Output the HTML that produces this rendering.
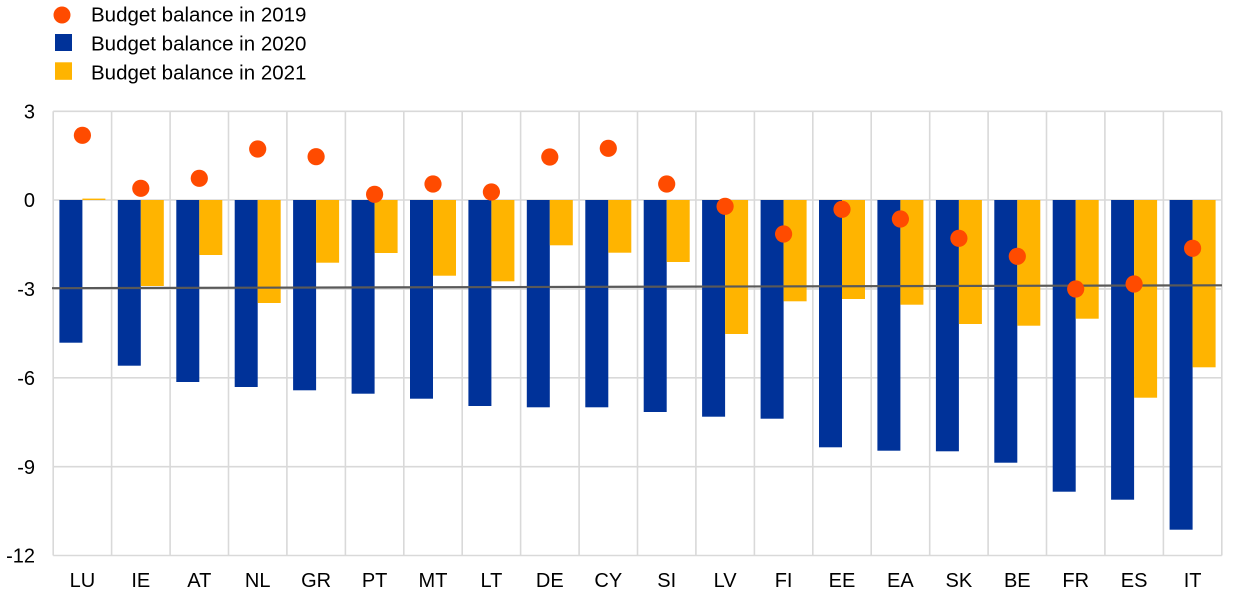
<!DOCTYPE html>
<html>
<head>
<meta charset="utf-8">
<style>
  html, body { margin: 0; padding: 0; background: #ffffff; }
  svg { display: block; }
  text { font-family: "Liberation Sans", Arial, sans-serif; fill: #000000; }
</style>
</head>
<body>
<svg width="1240" height="601" viewBox="0 0 1240 601" xmlns="http://www.w3.org/2000/svg">
  <!-- Legend -->
  <circle cx="62" cy="15" r="8.5" fill="#ff4b00"/>
  <rect x="55" y="34" width="17" height="17" fill="#003299"/>
  <rect x="55" y="62.3" width="17" height="17.5" fill="#ffb400"/>
  <text x="91" y="21.7" font-size="20.5">Budget balance in 2019</text>
  <text x="91" y="50.7" font-size="20.5">Budget balance in 2020</text>
  <text x="91" y="79.3" font-size="20.5">Budget balance in 2021</text>

  <!-- Grid -->
  <g stroke="#d9d9d9" stroke-width="1.6" fill="none">
    <line x1="53.2" y1="111.3" x2="1221.8" y2="111.3"/>
    <line x1="53.2" y1="200" x2="1221.8" y2="200"/>
    <line x1="53.2" y1="288.9" x2="1221.8" y2="288.9"/>
    <line x1="53.2" y1="377.8" x2="1221.8" y2="377.8"/>
    <line x1="53.2" y1="466.7" x2="1221.8" y2="466.7"/>
    <line x1="53.2" y1="555.5" x2="1221.8" y2="555.5"/>
    <line x1="53.2" y1="111.3" x2="53.2" y2="555.5"/>
    <line x1="111.6" y1="111.3" x2="111.6" y2="555.5"/>
    <line x1="170.1" y1="111.3" x2="170.1" y2="555.5"/>
    <line x1="228.5" y1="111.3" x2="228.5" y2="555.5"/>
    <line x1="286.9" y1="111.3" x2="286.9" y2="555.5"/>
    <line x1="345.4" y1="111.3" x2="345.4" y2="555.5"/>
    <line x1="403.8" y1="111.3" x2="403.8" y2="555.5"/>
    <line x1="462.2" y1="111.3" x2="462.2" y2="555.5"/>
    <line x1="520.6" y1="111.3" x2="520.6" y2="555.5"/>
    <line x1="579.1" y1="111.3" x2="579.1" y2="555.5"/>
    <line x1="637.5" y1="111.3" x2="637.5" y2="555.5"/>
    <line x1="695.9" y1="111.3" x2="695.9" y2="555.5"/>
    <line x1="754.4" y1="111.3" x2="754.4" y2="555.5"/>
    <line x1="812.8" y1="111.3" x2="812.8" y2="555.5"/>
    <line x1="871.2" y1="111.3" x2="871.2" y2="555.5"/>
    <line x1="929.7" y1="111.3" x2="929.7" y2="555.5"/>
    <line x1="988.1" y1="111.3" x2="988.1" y2="555.5"/>
    <line x1="1046.5" y1="111.3" x2="1046.5" y2="555.5"/>
    <line x1="1104.9" y1="111.3" x2="1104.9" y2="555.5"/>
    <line x1="1163.4" y1="111.3" x2="1163.4" y2="555.5"/>
    <line x1="1221.8" y1="111.3" x2="1221.8" y2="555.5"/>
  </g>

  <!-- Blue bars (2020) -->
  <g fill="#003299">
    <rect x="59.4" y="200" width="23" height="142.7"/>
    <rect x="117.8" y="200" width="23" height="165.7"/>
    <rect x="176.3" y="200" width="23" height="182"/>
    <rect x="234.7" y="200" width="23" height="187"/>
    <rect x="293.1" y="200" width="23" height="190.3"/>
    <rect x="351.6" y="200" width="23" height="193.7"/>
    <rect x="410" y="200" width="23" height="198.7"/>
    <rect x="468.4" y="200" width="23" height="206"/>
    <rect x="526.8" y="200" width="23" height="207.3"/>
    <rect x="585.3" y="200" width="23" height="207.3"/>
    <rect x="643.7" y="200" width="23" height="212"/>
    <rect x="702.1" y="200" width="23" height="216.7"/>
    <rect x="760.6" y="200" width="23" height="218.7"/>
    <rect x="819" y="200" width="23" height="247.3"/>
    <rect x="877.4" y="200" width="23" height="250.7"/>
    <rect x="935.9" y="200" width="23" height="251.3"/>
    <rect x="994.3" y="200" width="23" height="262.7"/>
    <rect x="1052.7" y="200" width="23" height="291.7"/>
    <rect x="1111.1" y="200" width="23" height="299.7"/>
    <rect x="1169.6" y="200" width="23" height="329.7"/>
  </g>

  <!-- Yellow bars (2021) -->
  <g fill="#ffb400">
    <rect x="82.4" y="198.6" width="23" height="1.4"/>
    <rect x="140.8" y="200" width="23" height="86"/>
    <rect x="199.3" y="200" width="23" height="55"/>
    <rect x="257.7" y="200" width="23" height="103"/>
    <rect x="316.1" y="200" width="23" height="62.7"/>
    <rect x="374.6" y="200" width="23" height="53"/>
    <rect x="433" y="200" width="23" height="75.7"/>
    <rect x="491.4" y="200" width="23" height="81.3"/>
    <rect x="549.8" y="200" width="23" height="45.3"/>
    <rect x="608.3" y="200" width="23" height="52.7"/>
    <rect x="666.7" y="200" width="23" height="62"/>
    <rect x="725.1" y="200" width="23" height="134"/>
    <rect x="783.6" y="200" width="23" height="101.3"/>
    <rect x="842" y="200" width="23" height="99"/>
    <rect x="900.4" y="200" width="23" height="104.7"/>
    <rect x="958.9" y="200" width="23" height="124"/>
    <rect x="1017.3" y="200" width="23" height="125.7"/>
    <rect x="1075.7" y="200" width="23" height="118.7"/>
    <rect x="1134.1" y="200" width="23" height="197.7"/>
    <rect x="1192.6" y="200" width="23" height="167.3"/>
  </g>

  <!-- -3% reference line -->
  <line x1="52" y1="288.2" x2="1222" y2="285.3" stroke="#595959" stroke-width="2.2"/>

  <!-- Dots (2019) -->
  <g fill="#ff4b00">
    <circle cx="82.4" cy="135.3" r="8.6"/>
    <circle cx="140.8" cy="188.3" r="8.6"/>
    <circle cx="199.3" cy="178.3" r="8.6"/>
    <circle cx="257.7" cy="149" r="8.6"/>
    <circle cx="316.1" cy="156.7" r="8.6"/>
    <circle cx="374.6" cy="194.3" r="8.6"/>
    <circle cx="433" cy="184" r="8.6"/>
    <circle cx="491.4" cy="192" r="8.6"/>
    <circle cx="549.8" cy="157" r="8.6"/>
    <circle cx="608.3" cy="148.3" r="8.6"/>
    <circle cx="666.7" cy="184" r="8.6"/>
    <circle cx="725.1" cy="206.3" r="8.6"/>
    <circle cx="783.6" cy="234" r="8.6"/>
    <circle cx="842" cy="209.3" r="8.6"/>
    <circle cx="900.4" cy="219" r="8.6"/>
    <circle cx="958.9" cy="238.3" r="8.6"/>
    <circle cx="1017.3" cy="256.3" r="8.6"/>
    <circle cx="1075.7" cy="289" r="8.6"/>
    <circle cx="1134.1" cy="284" r="8.6"/>
    <circle cx="1192.6" cy="248.3" r="8.6"/>
  </g>

  <!-- Y axis labels -->
  <g font-size="20" text-anchor="end">
    <text x="35" y="118.3">3</text>
    <text x="35" y="207.2">0</text>
    <text x="35" y="296.1">-3</text>
    <text x="35" y="385">-6</text>
    <text x="35" y="473.9">-9</text>
    <text x="35" y="562.7">-12</text>
  </g>

  <!-- X axis labels -->
  <g font-size="20" text-anchor="middle">
    <text x="82.4" y="587">LU</text>
    <text x="140.8" y="587">IE</text>
    <text x="199.3" y="587">AT</text>
    <text x="257.7" y="587">NL</text>
    <text x="316.1" y="587">GR</text>
    <text x="374.6" y="587">PT</text>
    <text x="433" y="587">MT</text>
    <text x="491.4" y="587">LT</text>
    <text x="549.8" y="587">DE</text>
    <text x="608.3" y="587">CY</text>
    <text x="666.7" y="587">SI</text>
    <text x="725.1" y="587">LV</text>
    <text x="783.6" y="587">FI</text>
    <text x="842" y="587">EE</text>
    <text x="900.4" y="587">EA</text>
    <text x="958.9" y="587">SK</text>
    <text x="1017.3" y="587">BE</text>
    <text x="1075.7" y="587">FR</text>
    <text x="1134.1" y="587">ES</text>
    <text x="1192.6" y="587">IT</text>
  </g>
</svg>
</body>
</html>
